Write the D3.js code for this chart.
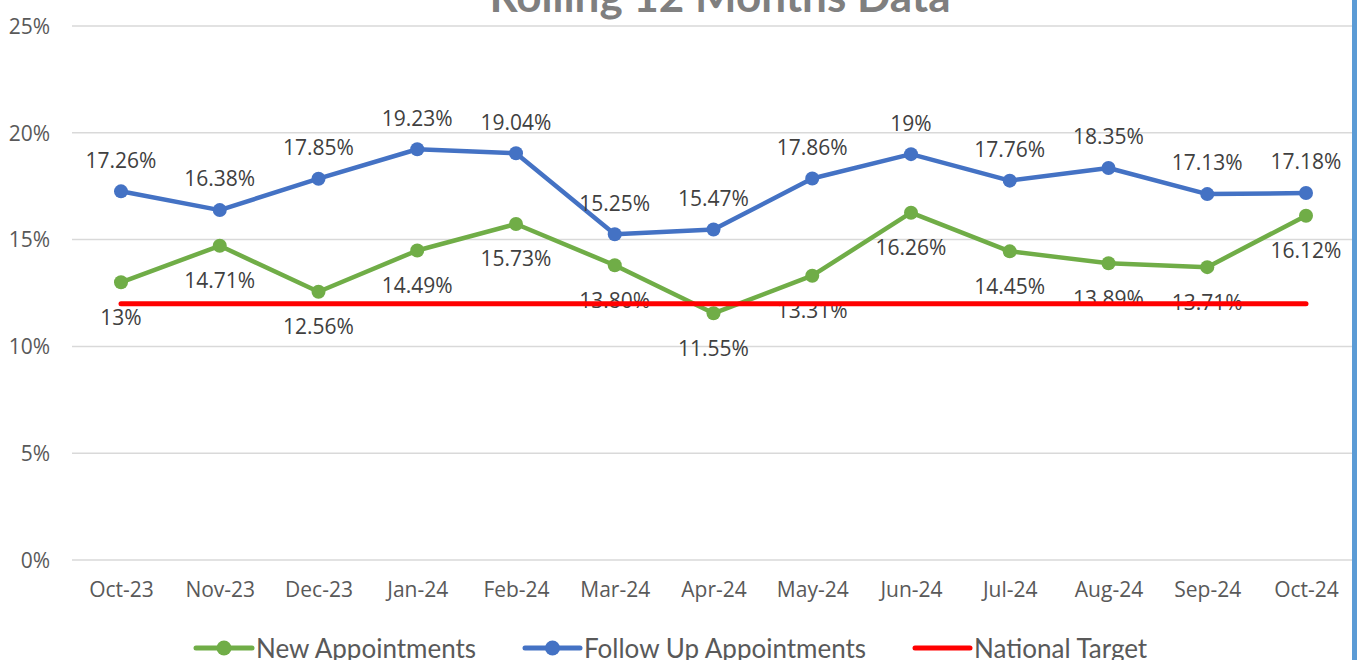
<!DOCTYPE html>
<html lang="en">
<head>
<meta charset="utf-8">
<title>Rolling 12 Months Data</title>
<script src="https://cdn.jsdelivr.net/npm/d3@7"></script>
<style>
  body { margin: 0; background: #fff; overflow: hidden; }
  .axis text { font-family: "Open Sans", sans-serif; font-size: 21px; fill: #595959; }
  .label { font-family: "Open Sans", sans-serif; font-size: 21px; fill: #404040; }
  .legend text { font-family: Lato, sans-serif; font-size: 26px; fill: #595959; }
</style>
</head>
<body>
<script>
var w = 1357, h = 660;

var months = ["Oct-23", "Nov-23", "Dec-23", "Jan-24", "Feb-24", "Mar-24", "Apr-24",
              "May-24", "Jun-24", "Jul-24", "Aug-24", "Sep-24", "Oct-24"];
var newAppts = [13, 14.71, 12.56, 14.49, 15.73, 13.80, 11.55, 13.31, 16.26, 14.45, 13.89, 13.71, 16.12];
var newLabels = ["13%", "14.71%", "12.56%", "14.49%", "15.73%", "13.80%", "11.55%",
                 "13.31%", "16.26%", "14.45%", "13.89%", "13.71%", "16.12%"];
var followUp = [17.26, 16.38, 17.85, 19.23, 19.04, 15.25, 15.47, 17.86, 19, 17.76, 18.35, 17.13, 17.18];
var followLabels = ["17.26%", "16.38%", "17.85%", "19.23%", "19.04%", "15.25%", "15.47%",
                    "17.86%", "19%", "17.76%", "18.35%", "17.13%", "17.18%"];
var target = 12;
var yTicks = [0, 5, 10, 15, 20, 25];

var green = "#70AD47", blue = "#4472C4", red = "#FF0000";

var svg = d3.select("body").append("svg").attr("width", w).attr("height", h);

var x = d3.scalePoint().domain(months).range([121, 1306]);
var y = d3.scaleLinear().domain([0, 25]).range([560, 26]);

// gridlines
svg.append("g").selectAll("line").data(yTicks).enter().append("line")
   .attr("x1", 72).attr("x2", 1352)
   .attr("y1", function(d) { return y(d); }).attr("y2", function(d) { return y(d); })
   .attr("stroke", "#D9D9D9").attr("stroke-width", 1.5);

// y axis labels
var yaxis = d3.axisLeft(y).tickValues(yTicks).tickSize(0).tickPadding(0)
              .tickFormat(function(d) { return d + "%"; });
var gy = svg.append("g").attr("class", "axis").attr("transform", "translate(50,0)").call(yaxis);
gy.select(".domain").remove();
gy.selectAll("text").attr("dy", "0.35em");

// x axis labels
var xaxis = d3.axisBottom(x).tickSize(0).tickPadding(0);
var gx = svg.append("g").attr("class", "axis").attr("transform", "translate(0,590)").call(xaxis);
gx.select(".domain").remove();
gx.selectAll("text").attr("dy", "0.35em");

// title (cut off at top)
svg.append("text").attr("x", 720).attr("y", 12).attr("text-anchor", "middle")
   .attr("font-family", "Lato, sans-serif").attr("font-weight", "bold")
   .attr("font-size", "44px").attr("fill", "#7F7F7F")
   .text("Rolling 12 Months Data");

var line = d3.line().x(function(d, i) { return x(months[i]); }).y(function(d) { return y(d); });

function drawSeries(vals, color) {
  svg.append("path").datum(vals).attr("d", line)
     .attr("fill", "none").attr("stroke", color).attr("stroke-width", 4.5)
     .attr("stroke-linejoin", "round");
  svg.append("g").selectAll("circle").data(vals).enter().append("circle")
     .attr("cx", function(d, i) { return x(months[i]); })
     .attr("cy", function(d) { return y(d); })
     .attr("r", 7).attr("fill", color);
}
drawSeries(newAppts, green);
drawSeries(followUp, blue);

// data labels
svg.append("g").selectAll("text").data(followUp).enter().append("text")
   .attr("class", "label").attr("text-anchor", "middle")
   .attr("x", function(d, i) { return x(months[i]); })
   .attr("y", function(d) { return y(d) - 31; })
   .attr("dy", "0.35em")
   .text(function(d, i) { return followLabels[i]; });

svg.append("g").selectAll("text").data(newAppts).enter().append("text")
   .attr("class", "label").attr("text-anchor", "middle")
   .attr("x", function(d, i) { return x(months[i]); })
   .attr("y", function(d) { return y(d) + 35; })
   .attr("dy", "0.35em")
   .text(function(d, i) { return newLabels[i]; });

// national target line (drawn on top)
svg.append("line")
   .attr("x1", x(months[0])).attr("x2", x(months[months.length - 1]))
   .attr("y1", y(target)).attr("y2", y(target))
   .attr("stroke", red).attr("stroke-width", 5).attr("stroke-linecap", "round");

// legend
var legendItems = [
  { name: "New Appointments", color: green, marker: true, x0: 196, x1: 252 },
  { name: "Follow Up Appointments", color: blue, marker: true, x0: 525, x1: 580 },
  { name: "National Target", color: red, marker: false, x0: 915, x1: 970 }
];
var lg = svg.append("g").attr("class", "legend");
legendItems.forEach(function(d) {
  lg.append("line").attr("x1", d.x0).attr("x2", d.x1).attr("y1", 648).attr("y2", 648)
    .attr("stroke", d.color).attr("stroke-width", 5).attr("stroke-linecap", "round");
  if (d.marker) {
    lg.append("circle").attr("cx", (d.x0 + d.x1) / 2).attr("cy", 648).attr("r", 7.5).attr("fill", d.color);
  }
  lg.append("text").attr("x", d.x1 + 4).attr("y", 658).text(d.name);
});

// right border
svg.append("rect").attr("x", 1352).attr("y", 0).attr("width", 5).attr("height", h).attr("fill", "#5B9BD5");
</script>
</body>
</html>
